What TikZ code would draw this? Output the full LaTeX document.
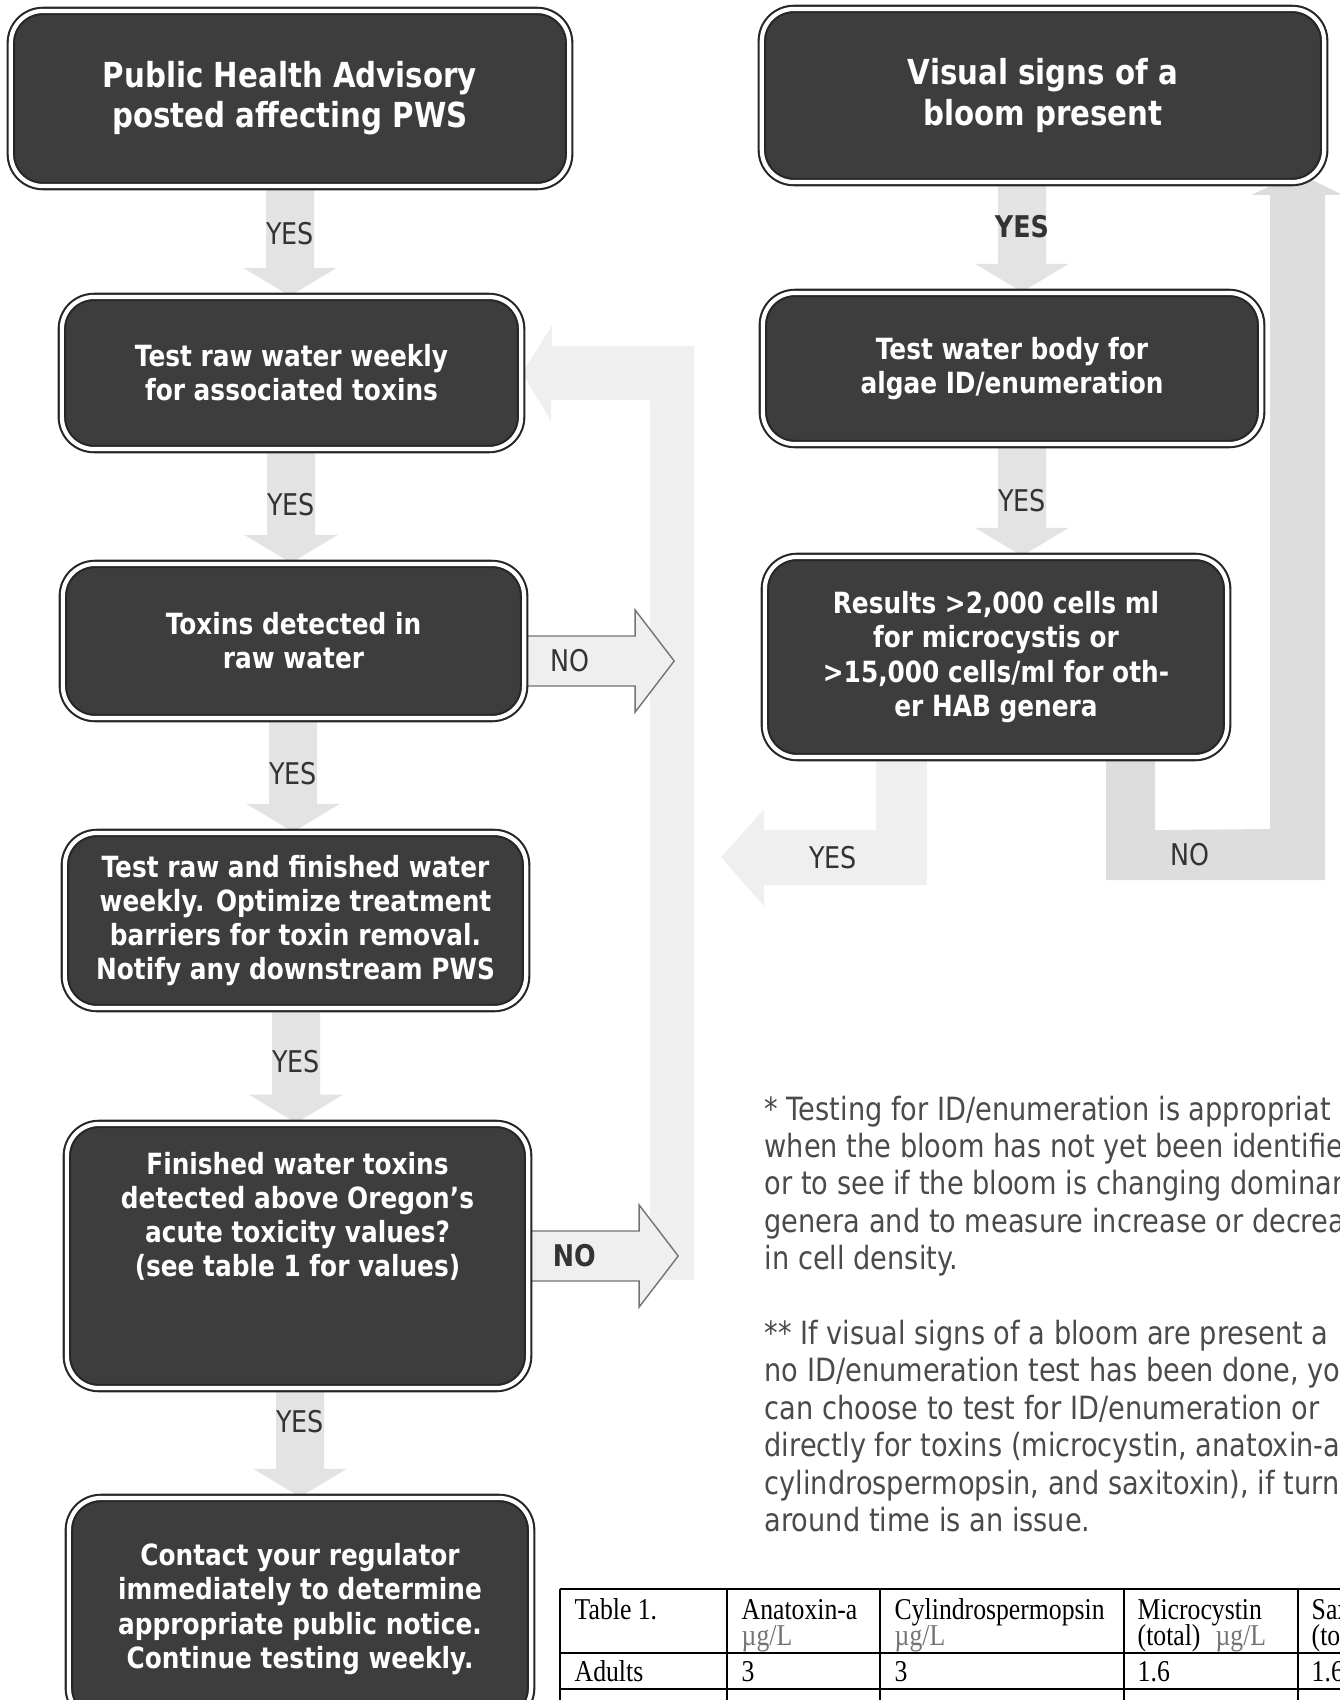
\documentclass[tikz,border=0pt]{standalone}
\usepackage{fontspec}
\setmainfont{DejaVu Sans}[FakeStretch=0.85]
\newfontfamily\tabfont{Liberation Serif}[FakeStretch=0.85]
\usetikzlibrary{calc,backgrounds}
\definecolor{boxfill}{HTML}{3D3D3D}
\definecolor{flowgray}{HTML}{E3E3E3}
\definecolor{lightflow}{HTML}{EFEFEF}
\definecolor{bandgray}{HTML}{DDDDDD}
\definecolor{notegray}{HTML}{4A4A4A}

% down arrow between two boxes: name, x, from, to, label style, label, label pos
\newcommand\yesflow[7]{%
  \path[myflow] let \p1=(#3.south), \p2=(#4.north) in
    ({#2-24},\y1) -- ({#2+24},\y1) -- ({#2+24},{\y2+8pt}) -- ({#2+47},{\y2+8pt})
    -- (#2,\y2) -- ({#2-47},{\y2+8pt}) -- ({#2-24},{\y2+8pt}) -- cycle
    ({#2},{#7*\y1+(1-#7)*\y2}) node[#5] (#1) {#6};}
% outlined arrow out of a box to the right
\newcommand\noarrow[4]{%
  \filldraw[noflow] ([yshift=#3]#2.east) ++(0,-25) -- ++(110,0) -- ++(0,-26)
    -- ++(39,51) -- ++(-39,51) -- ++(0,-26) -- ++(-110,0) -- cycle;
  \node[#4] (#1) at ([xshift=.45cm,yshift=#3]#2.east) {NO};}

\begin{document}
\begin{tikzpicture}[x=.01cm,y=-.01cm,
    mybox/.style={draw=black!85,double=white,double distance=1.2pt,line width=.6pt,
      fill=boxfill,rounded corners=.32cm,text=white,align=center,
      font=\fontsize{8.3}{9.7}\selectfont\bfseries},
    bigbox/.style={mybox,font=\fontsize{9.8}{11.4}\selectfont\bfseries},
    boxtext/.style={text=white,align=center,font=\fontsize{8.3}{9.7}\selectfont\bfseries},
    myflow/.style={fill=flowgray},
    noflow/.style={fill=lightflow,draw=black!55,line width=.4pt},
    lbl/.style={text=black!80,inner sep=1pt,font=\fontsize{8.5}{10}\selectfont},
    blbl/.style={lbl,font=\fontsize{8.5}{10}\selectfont\bfseries},
    note/.style={anchor=north west,inner sep=0pt,align=left,text=notegray,
      font=\fontsize{9.1}{10.64}\selectfont},
    cell/.style={anchor=base west,inner sep=0pt,font=\tabfont\fontsize{8.6}{10}\selectfont},
    tabline/.style={line width=.6pt},
    line join=round
  ]
  \useasboundingbox (0,0) rectangle (1340,1700);

  % left column
  \node[bigbox,minimum width=5.58cm,minimum height=1.75cm] (b1) at (290,98.5)
    {Public Health Advisory\\posted affecting PWS};
  \node[mybox,minimum width=4.59cm,minimum height=1.52cm] (b2) at (291.5,373)
    {Test raw water weekly\\for associated toxins};
  \node[mybox,minimum width=4.61cm,minimum height=1.54cm] (b3) at (293.5,641)
    {Toxins detected in\\raw water};
  \node[mybox,minimum width=4.61cm,minimum height=1.75cm] (b4) at (295.5,920.5)
    {Test raw and finished water\\weekly. Optimize treatment\\barriers for toxin removal.\\Notify any downstream PWS};
  \node[mybox,minimum width=4.61cm,minimum height=2.64cm] (b5) at (297.5,1256) {};
  \node[boxtext] (b5t) at (297.5,1216)
    {Finished water toxins\\detected above Oregon’s\\acute toxicity values?\\(see table 1 for values)};
  \node[mybox,minimum width=4.62cm,minimum height=2.22cm] (b6) at (300,1609)
    {Contact your regulator\\immediately to determine\\appropriate public notice.\\Continue testing weekly.};

  % right column
  \node[bigbox,minimum width=5.62cm,minimum height=1.73cm] (r1) at (1043,95.5)
    {Visual signs of a\\bloom present};
  \node[mybox,minimum width=4.98cm,minimum height=1.51cm] (r2) at (1012,368.5)
    {Test water body for\\algae ID/enumeration};
  \node[mybox,minimum width=4.62cm,minimum height=2cm] (r3) at (996,657)
    {Results >2,000 cells ml\\for microcystis or\\>15,000 cells/ml for oth-\\er HAB genera};

  \begin{scope}[on background layer]
    \fill[lightflow] (b2.east) -- ++(30,-48) -- ++(0,21) -- (694,346) -- (694,1280)
      -- (650,1280) -- (650,400) -- ++(-99,0) -- ++(0,21) -- cycle;
    \noarrow{no1}{b3}{-.2cm}{lbl}
    \noarrow{no2}{b5}{0cm}{blbl}
    \yesflow{yes1}{290}{b1}{b2}{lbl}{YES}{.57}
    \yesflow{yes2}{291}{b2}{b3}{lbl}{YES}{.52}
    \yesflow{yes3}{293}{b3}{b4}{lbl}{YES}{.52}
    \yesflow{yes4}{296}{b4}{b5}{lbl}{YES}{.54}
    \yesflow{yes5}{300}{b5}{b6}{lbl}{YES}{.7}
    \yesflow{yes6}{1022}{r1}{r2}{blbl}{YES}{.6}
    \yesflow{yes7}{1022}{r2}{r3}{lbl}{YES}{.5}
    \fill[lightflow] ([xshift=-1.2cm]r3.south) -- ++(51,0) -- ++(0,127) -- ++(-163,0)
      -- ++(0,21) -- ++(-43,-49) -- ++(43,-48) -- ++(0,21) -- ++(112,0) -- cycle;
    \fill[bandgray] ([xshift=1.1cm]r3.south) -- ++(49,0) -- ++(0,72) -- (1270,829)
      -- (1270,195) -- (1251,195) -- ([xshift=-.27cm,yshift=.1cm]r1.south east)
      -- (1343,195) -- (1325,195) -- (1325,880) -- ++(-219,0) -- cycle;
    \node[lbl] (yes8) at (833,858) {YES};
    \node[lbl] (no3) at (1190,855) {NO};
  \end{scope}

  % notes
  \node[note] (notes) at (764,1095)
    {* Testing for ID/enumeration is appropriat\\
     when the bloom has not yet been identifie\\
     or to see if the bloom is changing dominan\\
     genera and to measure increase or decrea\\
     in cell density.\\[10.64pt]
     ** If visual signs of a bloom are present a\\
     no ID/enumeration test has been done, yo\\
     can choose to test for ID/enumeration or\\
     directly for toxins (microcystin, anatoxin-a,\\
     cylindrospermopsin, and saxitoxin), if turn\\
     around time is an issue.};

  % table 1
  \foreach \y in {1589,1653,1689}
    \draw[tabline] (560,\y) -- (1345,\y);
  \foreach \x in {560,727,880,1124,1298}
    \draw[tabline] (\x,1589) -- (\x,1710);
  \node[cell] (t1) at (574,1619) {Table 1.};
  \node[cell] (t2) at (741,1619) {Anatoxin-a};
  \node[cell] (t2u) at (741,1645) {\textcolor{black!55}{µg/L}};
  \node[cell] (t3) at (894,1619) {Cylindrospermopsin};
  \node[cell] (t3u) at (894,1645) {\textcolor{black!55}{µg/L}};
  \node[cell] (t4) at (1137,1619) {Microcystin};
  \node[cell] (t4u) at (1137,1645) {(total)\enspace\textcolor{black!55}{µg/L}};
  \node[cell] (t5) at (1311,1619) {Sax};
  \node[cell] (t5u) at (1311,1645) {(to};
  \node[cell] (a1) at (574,1681) {Adults};
  \node[cell] (a2) at (741,1681) {3};
  \node[cell] (a3) at (894,1681) {3};
  \node[cell] (a4) at (1137,1681) {1.6};
  \node[cell] (a5) at (1311,1681) {1.6};
\end{tikzpicture}
\end{document}
